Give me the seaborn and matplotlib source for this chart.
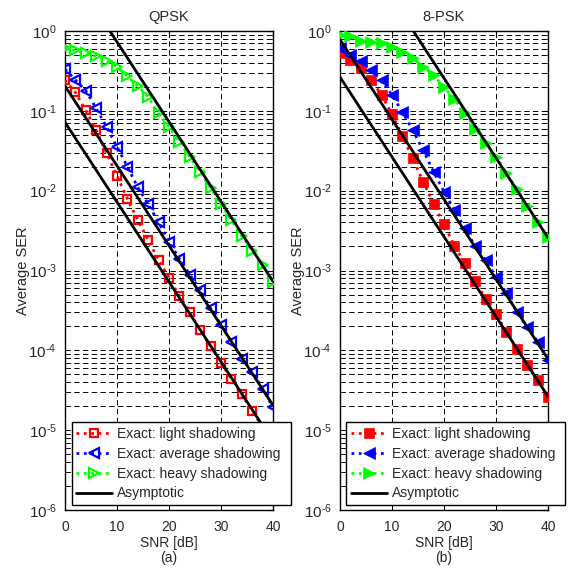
import numpy as np
import pandas as pd
import matplotlib
matplotlib.use("Agg")
import matplotlib.pyplot as plt
from matplotlib.ticker import NullFormatter, FixedLocator, FuncFormatter
import seaborn as sns

# SNR grid in dB
snr = [0, 2, 4, 6, 8, 10, 12, 14, 16, 18, 20, 22, 24, 26, 28, 30, 32, 34, 36, 38, 40]

# QPSK: exact average SER
qpsk_light = [0.243, 0.17, 0.102, 0.057, 0.0295, 0.0154, 0.0079, 0.0043, 0.0024, 0.00135,
              0.00081, 0.00048, 0.0003, 0.000178, 0.000113, 6.9e-5, 4.4e-5, 2.8e-5, 1.74e-5,
              1.1e-5, 7.0e-6]
qpsk_avg = [0.334, 0.243, 0.179, 0.107, 0.063, 0.0355, 0.02, 0.011, 0.0068, 0.0040, 0.0023,
            0.0014, 0.00089, 0.00057, 0.000335, 0.000208, 0.000128, 7.9e-5, 5.4e-5, 3.3e-5,
            1.96e-5]
qpsk_heavy = [0.61, 0.57, 0.525, 0.48, 0.42, 0.357, 0.27, 0.204, 0.15, 0.093, 0.063, 0.041,
              0.0266, 0.0173, 0.0107, 0.0068, 0.0043, 0.0027, 0.00177, 0.00117, 0.00072]

# 8-PSK: exact average SER
psk8_light = [0.525, 0.43, 0.34, 0.243, 0.158, 0.091, 0.048, 0.0254, 0.0129, 0.0069, 0.0038,
              0.00204, 0.00123, 0.00074, 0.000437, 0.000282, 0.00017, 0.000105, 6.5e-5,
              4.2e-5, 2.6e-5]
psk8_avg = [0.61, 0.5, 0.42, 0.325, 0.243, 0.158, 0.097, 0.057, 0.032, 0.0173, 0.0097, 0.0057,
            0.0034, 0.002, 0.00135, 0.00083, 0.00052, 0.0003, 0.000197, 0.000128, 7.5e-5]
psk8_heavy = [0.89, 0.865, 0.76, 0.735, 0.714, 0.637, 0.55, 0.454, 0.357, 0.281, 0.197, 0.141,
              0.093, 0.06, 0.039, 0.0266, 0.0168, 0.0104, 0.0064, 0.0041, 0.0026]

# High-SNR asymptote coefficients: SER ~ c * 10^(-SNR/10)
qpsk_asym_coef = [0.072, 0.205, 7.3]
psk8_asym_coef = [0.265, 0.78, 25.7]

titles = ["QPSK", "8-PSK"]
panel_tags = ["(a)", "(b)"]
labels = ["Exact: light shadowing", "Exact: average shadowing",
          "Exact: heavy shadowing", "Asymptotic"]
x_ticks = [0, 10, 20, 30, 40]
y_exponents = [-6, -5, -4, -3, -2, -1, 0]

sns.set_theme(style="white")
plt.rcParams["font.family"] = ["Liberation Sans", "DejaVu Sans"]
plt.rcParams["mathtext.fontset"] = "custom"
plt.rcParams["mathtext.rm"] = "Liberation Sans"
plt.rcParams["mathtext.it"] = "Liberation Sans:italic"
plt.rcParams["mathtext.default"] = "regular"


def pow10_label(v, pos):
    e = int(round(np.log10(v)))
    if e < 0:
        return r"$10^{\text{-}%d}$" % (-e)
    return r"$10^{%d}$" % e


major_y = [10.0 ** e for e in y_exponents]
minor_y = [m * 10.0 ** e for e in y_exponents[:-1] for m in range(2, 10)]

fig = plt.figure(figsize=(5.69, 5.71), dpi=100)
ax_pos = [[0.1142, 0.1068, 0.3656, 0.8389], [0.5975, 0.1068, 0.3656, 0.8389]]
legend_anchor = [(0.126, 0.1155, 0.385, 0.145), (0.608, 0.1155, 0.385, 0.145)]

colors = ["#ff0000", "#0000ff", "#00ff00"]
markers = ["s", "<", ">"]

panels = [
    (qpsk_light, qpsk_avg, qpsk_heavy, qpsk_asym_coef, False),
    (psk8_light, psk8_avg, psk8_heavy, psk8_asym_coef, True),
]

snr_arr = np.array(snr, dtype=float)

for i, (light, avg, heavy, coefs, filled) in enumerate(panels):
    ax = fig.add_axes(ax_pos[i])
    series = [light, avg, heavy]
    for k, vals in enumerate(series):
        df = pd.DataFrame({"snr": snr, "ser": vals})
        if filled:
            ms = 7.5 if k == 0 else 9
            mfc = colors[k]
            mew = 0.5
        else:
            ms = 6 if k == 0 else 7.8
            mfc = "none"
            mew = 1.6
        sns.lineplot(data=df, x="snr", y="ser", ax=ax, color=colors[k],
                     linestyle=":", linewidth=2.0, marker=markers[k],
                     markersize=ms, markerfacecolor=mfc, markeredgecolor=colors[k],
                     markeredgewidth=mew, label=labels[k], zorder=3)
    for k, c in enumerate(coefs):
        asym = c * 10 ** (-snr_arr / 10)
        df = pd.DataFrame({"snr": snr, "ser": asym})
        sns.lineplot(data=df, x="snr", y="ser", ax=ax, color="black",
                     linewidth=2.0, label=labels[3] if k == 0 else None, zorder=4)

    ax.set_yscale("log")
    ax.set_xlim(0, 40)
    ax.set_ylim(1e-6, 1)
    ax.xaxis.set_major_locator(FixedLocator(x_ticks))
    ax.yaxis.set_major_locator(FixedLocator(major_y))
    ax.yaxis.set_major_formatter(FuncFormatter(pow10_label))
    ax.yaxis.set_minor_locator(FixedLocator(minor_y))
    ax.yaxis.set_minor_formatter(NullFormatter())

    ax.grid(False)
    ax.grid(True, which="major", axis="x", color="black", linestyle=(0, (5.5, 3.5)),
            linewidth=0.7)
    ax.grid(True, which="both", axis="y", color="black", linestyle=(0, (5.5, 3.5)),
            linewidth=0.7)
    ax.set_axisbelow(True)

    ax.tick_params(axis="x", which="major", direction="in", length=4, width=0.8,
                   labelsize=10, color="black", top=True, pad=7)
    ax.tick_params(axis="y", which="major", direction="in", length=4, width=0.8,
                   labelsize=11, color="black", right=True, pad=6)
    ax.tick_params(axis="y", which="minor", direction="in", length=2, width=0.6,
                   left=True, right=True)
    for sp in ax.spines.values():
        sp.set_color("black")
        sp.set_linewidth(1.0)

    ax.set_title(titles[i], fontsize=10.5, pad=7)
    ax.set_xlabel("SNR [dB]\n" + panel_tags[i], fontsize=10, linespacing=1.12,
                  labelpad=1.5)
    ax.set_ylabel("Average SER", fontsize=10.5, labelpad=-1)

    leg = ax.legend(loc="lower left", bbox_to_anchor=legend_anchor[i],
                    bbox_transform=fig.transFigure, mode="expand",
                    fontsize=10, frameon=True, fancybox=False, framealpha=1,
                    edgecolor="black", handlelength=2.6, handletextpad=0.35,
                    labelspacing=0.42, borderpad=0.33, borderaxespad=0, numpoints=1)
    leg.get_frame().set_linewidth(1.0)
    leg.set_zorder(10)

fig.savefig("out.png", dpi=100)
